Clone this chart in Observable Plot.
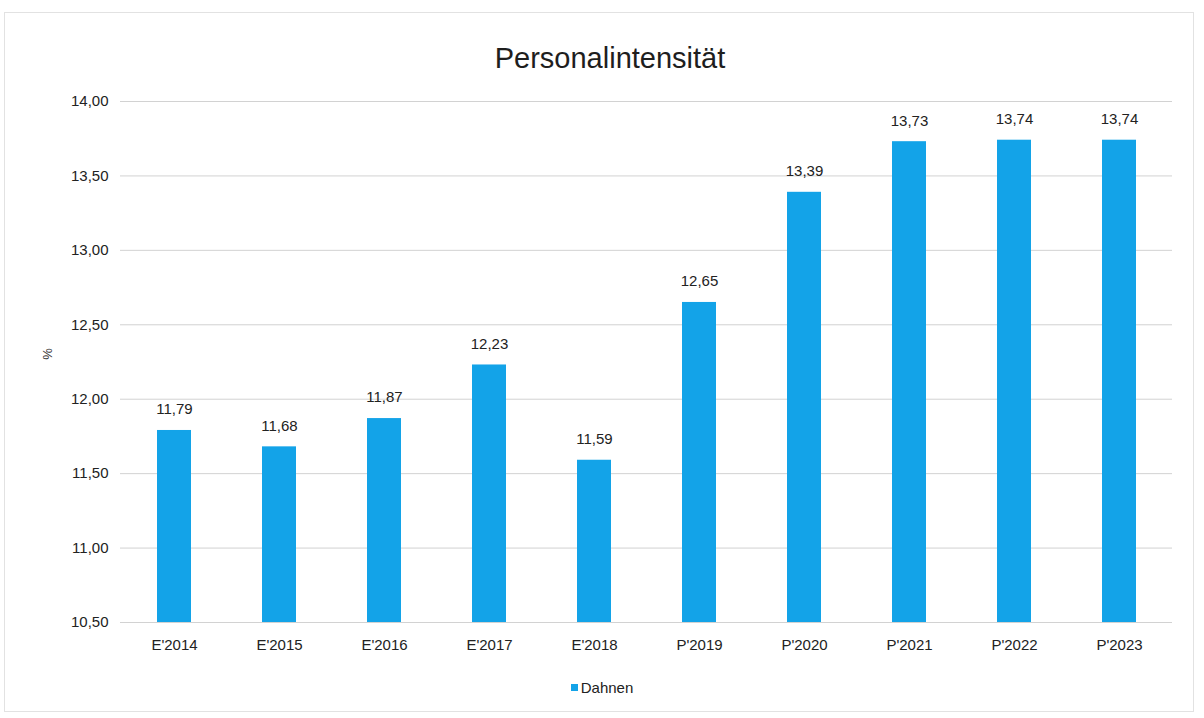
<!DOCTYPE html>
<html>
<head>
<meta charset="utf-8">
<script src="https://cdn.jsdelivr.net/npm/d3@7"></script>
<script src="https://cdn.jsdelivr.net/npm/@observablehq/plot@0.6"></script>
<style>
  html, body { margin: 0; padding: 0; background: #fff; }
  body { width: 1204px; height: 718px; position: relative; overflow: hidden; font-family: "Liberation Sans", Arial, sans-serif; }
  #frame { position: absolute; left: 4px; top: 12px; width: 1190px; height: 700px; border: 1px solid #e2e2e2; box-sizing: border-box; }
  #title { position: absolute; left: 0; top: 42px; width: 1220px; text-align: center; font-size: 29px; color: #1e1e1e; }
  #ylabel { position: absolute; left: 40px; top: 346px; width: 16px; height: 16px; line-height: 16px; text-align: center; font-size: 13px; color: #333; transform: rotate(-90deg); }
  #chart { position: absolute; left: 0; top: 80px; }
  #legend { position: absolute; left: 0; top: 679px; width: 1204px; text-align: center; font-size: 15px; color: #222; }
  #legend .sw { display: inline-block; width: 7px; height: 7px; background: #13a3e8; margin-right: 3px; vertical-align: 2px; }
</style>
</head>
<body>
<div id="frame"></div>
<div id="title">Personalintensität</div>
<div id="chart"></div>
<div id="ylabel">%</div>
<div id="legend"><span class="sw"></span>Dahnen</div>
<script>
const categories = ["E'2014", "E'2015", "E'2016", "E'2017", "E'2018", "P'2019", "P'2020", "P'2021", "P'2022", "P'2023"];
const values = [11.79, 11.68, 11.87, 12.23, 11.59, 12.65, 13.39, 13.73, 13.74, 13.74];
const yTicks = [10.5, 11, 11.5, 12, 12.5, 13, 13.5, 14];
const seriesName = "Dahnen";

const data = categories.map((c, i) => ({category: c, value: values[i], series: seriesName}));
const fmt = v => v.toFixed(2).replace(".", ",");

const chart = Plot.plot({
  width: 1204,
  height: 590,
  marginLeft: 120,
  marginRight: 32,
  marginTop: 21,
  marginBottom: 48,
  style: {fontFamily: "'Liberation Sans', Arial, sans-serif", fontSize: "15px", color: "#222", background: "transparent"},
  x: {domain: categories, paddingInner: 0.68, paddingOuter: 0.34, label: null},
  y: {domain: [10.5, 14], label: null},
  marks: [
    Plot.gridY(yTicks, {stroke: "#d2d2d2", strokeOpacity: 1, strokeWidth: 1}),
    Plot.barY(data, {x: "category", y1: 10.5, y2: "value", fill: "#13a3e8"}),
    Plot.text(data, {x: "category", y: "value", text: d => fmt(d.value), dy: -21, fontSize: 15, fill: "#222"}),
    Plot.axisY(yTicks, {tickSize: 0, tickPadding: 12, tickFormat: fmt, fontSize: 15, fill: "#222", label: null}),
    Plot.axisX({tickSize: 0, tickPadding: 17, fontSize: 15, fill: "#222", label: null})
  ]
});
document.getElementById("chart").appendChild(chart);
</script>
</body>
</html>
